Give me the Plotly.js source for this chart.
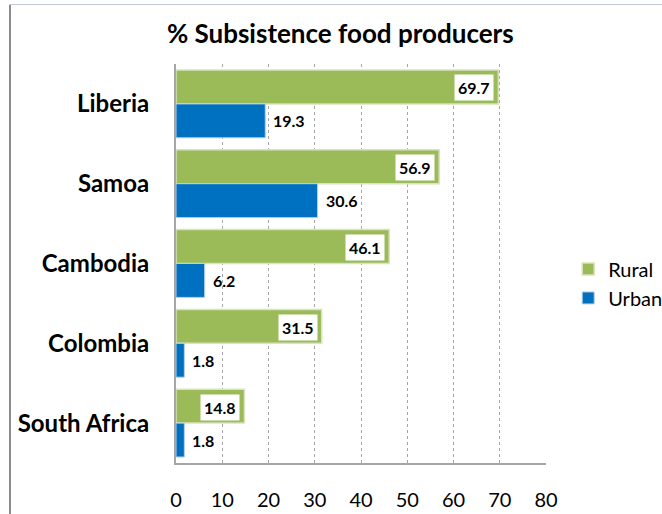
<!DOCTYPE html>
<html>
<head>
<meta charset="utf-8">
<script src="https://cdn.plot.ly/plotly-3.0.1.min.js"></script>
<style>
  html, body { margin: 0; padding: 0; background: #ffffff; }
  #wrap { position: relative; width: 662px; height: 514px; }
  #chart { width: 662px; height: 514px; }
  #frameL { position: absolute; left: 9px; top: 4px; width: 2px; height: 510px; background: #8c8c8c; }
  #frameT { position: absolute; left: 9px; top: 4px; width: 653px; height: 1px; background: #c5cbd8; }
</style>
</head>
<body>
<div id="wrap">
  <div id="chart"></div>
  <div id="frameL"></div>
  <div id="frameT"></div>
</div>
<script>
const categories = ["Liberia", "Samoa", "Cambodia", "Colombia", "South Africa"];
const rural = [69.7, 56.9, 46.1, 31.5, 14.8];
const urban = [19.3, 30.6, 6.2, 1.8, 1.8];
const xTicks = [0, 10, 20, 30, 40, 50, 60, 70, 80];

const FONT = "Lato, 'Open Sans', sans-serif";

const traces = [
  {
    type: "bar", orientation: "h", name: "Rural", legendgroup: "r",
    y: categories, x: rural,
    marker: { color: "#9bbb59", line: { color: "#d7e4bd", width: 1.5 } },
    hoverinfo: "skip"
  },
  {
    type: "bar", orientation: "h", name: "Urban", legendgroup: "u",
    y: categories, x: urban,
    marker: { color: "#0070c0", line: { color: "#b7cfe8", width: 1 } },
    hoverinfo: "skip"
  }
];

const ruralLabels = rural.map((v, i) => ({
  x: v, y: categories[i], xref: "x", yref: "y",
  text: "<b>" + v.toFixed(1) + "</b>",
  showarrow: false,
  xanchor: "right", yanchor: "middle",
  xshift: -4, yshift: 16,
  bgcolor: "#ffffff",
  borderpad: 3,
  font: { family: FONT, size: 16, color: "#000000" }
}));

const urbanLabels = urban.map((v, i) => ({
  x: v, y: categories[i], xref: "x", yref: "y",
  text: "<b>" + v.toFixed(1) + "</b>",
  showarrow: false,
  xanchor: "left", yanchor: "middle",
  xshift: 6, yshift: -17,
  font: { family: FONT, size: 16, color: "#000000" }
}));

const layout = {
  width: 662, height: 514,
  margin: { l: 176, r: 116, t: 64, b: 51, autoexpand: false },
  paper_bgcolor: "#ffffff",
  plot_bgcolor: "#ffffff",
  font: { family: FONT, color: "#000000" },
  title: {
    text: "<b>% Subsistence food producers</b>",
    font: { family: FONT, size: 26, color: "#000000" },
    x: 0.514, xref: "container", xanchor: "center",
    y: 0.935, yref: "container", yanchor: "middle"
  },
  barmode: "group",
  bargap: 0.15,
  bargroupgap: 0,
  showlegend: true,
  legend: {
    x: 1.06, xanchor: "left", y: 0.45, yanchor: "middle",
    traceorder: "normal",
    font: { family: FONT, size: 20, color: "#000000" },
    itemwidth: 30, tracegroupgap: 11
  },
  xaxis: {
    range: [0, 80],
    tickvals: xTicks,
    ticktext: xTicks.map(String),
    showgrid: true, gridcolor: "#a6a6a6", griddash: "dot", gridwidth: 1,
    zeroline: false,
    showline: true, linecolor: "#a6a6a6", linewidth: 2,
    ticks: "", ticklabelstandoff: 18,
    tickfont: { family: FONT, size: 20, color: "#000000" },
    fixedrange: true
  },
  yaxis: {
    categoryorder: "array", categoryarray: categories,
    autorange: "reversed",
    showgrid: false, zeroline: false,
    showline: true, linecolor: "#a6a6a6", linewidth: 2,
    ticks: "", ticklabelstandoff: 20,
    tickfont: { family: FONT, size: 24, color: "#000000", weight: "bold" },
    fixedrange: true
  },
  annotations: ruralLabels.concat(urbanLabels)
};

Plotly.newPlot("chart", traces, layout, { displayModeBar: false, staticPlot: true });
</script>
</body>
</html>
